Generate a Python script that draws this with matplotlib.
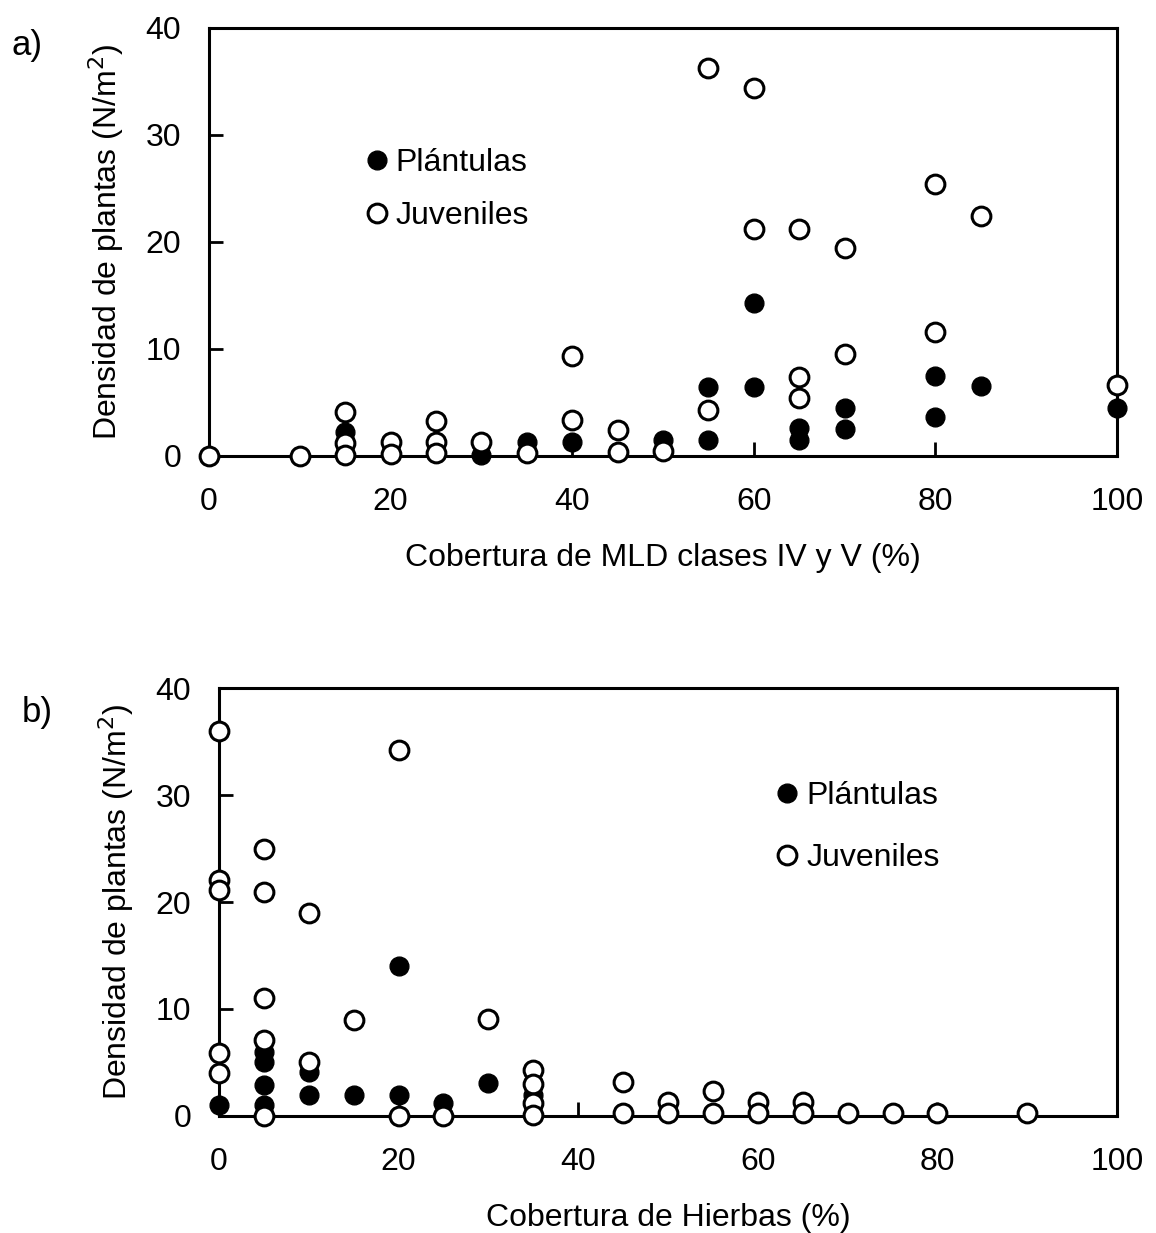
import numpy as np
import matplotlib.pyplot as plt

plt.rcParams['font.family'] = ['Liberation Sans', 'DejaVu Sans']

# --- Panel a: cobertura de MLD clases IV y V ---
a_pl_x = [15, 30, 35, 40, 50, 55, 55, 60, 60, 65, 65, 70, 70, 80, 80, 85, 100]
a_pl_y = [2.2, 0.1, 1.3, 1.3, 1.5, 6.4, 1.5, 14.3, 6.4, 2.6, 1.5, 4.5, 2.5, 7.5, 3.6, 6.5, 4.5]

a_ju_x = [0, 10, 15, 15, 15, 20, 20, 25, 25, 25, 30, 35, 40, 40, 45, 45, 50,
          55, 55, 60, 60, 65, 65, 65, 70, 70, 80, 80, 85, 100]
a_ju_y = [0.0, 0.0, 4.1, 1.2, 0.1, 1.3, 0.2, 3.3, 1.3, 0.3, 1.3, 0.3, 9.3, 3.4, 2.4, 0.4, 0.5,
          36.3, 4.3, 34.4, 21.2, 21.2, 7.4, 5.4, 19.4, 9.5, 25.4, 11.6, 22.4, 6.6]

# --- Panel b: cobertura de hierbas ---
b_pl_x = [0, 5, 5, 5, 5, 10, 10, 15, 20, 20, 25, 30, 35]
b_pl_y = [1.0, 6.0, 5.0, 2.9, 1.0, 4.1, 2.0, 2.0, 14.0, 2.0, 1.2, 3.1, 2.0]

b_ju_x = [0, 0, 0, 0, 0, 5, 5, 5, 5, 5, 10, 10, 15, 20, 20, 25, 30,
          35, 35, 35, 35, 45, 45, 50, 50, 55, 55, 60, 60, 65, 65, 70, 75, 80, 90]
b_ju_y = [36.0, 22.1, 21.1, 5.9, 4.0, 25.0, 20.9, 11.0, 7.1, 0.0, 19.0, 5.0, 9.0, 34.2, 0.0, 0.0, 9.1,
          4.3, 3.0, 1.2, 0.1, 3.2, 0.3, 1.3, 0.3, 2.3, 0.3, 1.3, 0.3, 1.3, 0.3, 0.3, 0.3, 0.3, 0.3]

x_ticks = [0, 20, 40, 60, 80, 100]
y_ticks = [0, 10, 20, 30, 40]
FS = 23

fig = plt.figure(figsize=(11.56, 12.33), dpi=100)
ax_a = fig.add_axes([0.1808, 0.6302, 0.7855, 0.3471])
ax_b = fig.add_axes([0.1894, 0.0949, 0.7769, 0.3471])


def draw_panel(ax, pl_x, pl_y, ju_x, ju_y, xlabel, legend_anchor, spacing):
    ms = 13.5
    ax.plot(pl_x, pl_y, 'o', color='black', markersize=ms, clip_on=False,
            zorder=3, label='Plántulas')
    ax.plot(ju_x, ju_y, 'o', markerfacecolor='white', markeredgecolor='black',
            markeredgewidth=2.2, markersize=ms, clip_on=False, zorder=4,
            label='Juveniles')
    ax.set_xlim(0, 100)
    ax.set_ylim(0, 40)
    ax.set_xticks(x_ticks)
    ax.set_yticks(y_ticks)
    ax.tick_params(direction='in', length=10, width=2, labelsize=FS)
    ax.tick_params(axis='x', pad=22)
    ax.tick_params(axis='y', pad=20)
    for s in ax.spines.values():
        s.set_linewidth(2.2)
    ax.set_xlabel(xlabel, fontsize=FS, labelpad=19)
    ax.set_ylabel('Densidad de plantas (N/m$^2$)', fontsize=FS, labelpad=14)
    ax.legend(loc='upper left', bbox_to_anchor=legend_anchor, frameon=False,
              fontsize=FS, handletextpad=0.1, labelspacing=spacing,
              borderaxespad=0, handlelength=1.0)


draw_panel(ax_a, a_pl_x, a_pl_y, a_ju_x, a_ju_y,
           'Cobertura de MLD clases IV y V (%)', (0.153, 0.75), 0.72)
draw_panel(ax_b, b_pl_x, b_pl_y, b_ju_x, b_ju_y,
           'Cobertura de Hierbas (%)', (0.601, 0.813), 1.0)

fig.text(0.010, 0.963, 'a)', fontsize=25, va='center')
fig.text(0.019, 0.422, 'b)', fontsize=25, va='center')

fig.savefig('out.png', dpi=100)
